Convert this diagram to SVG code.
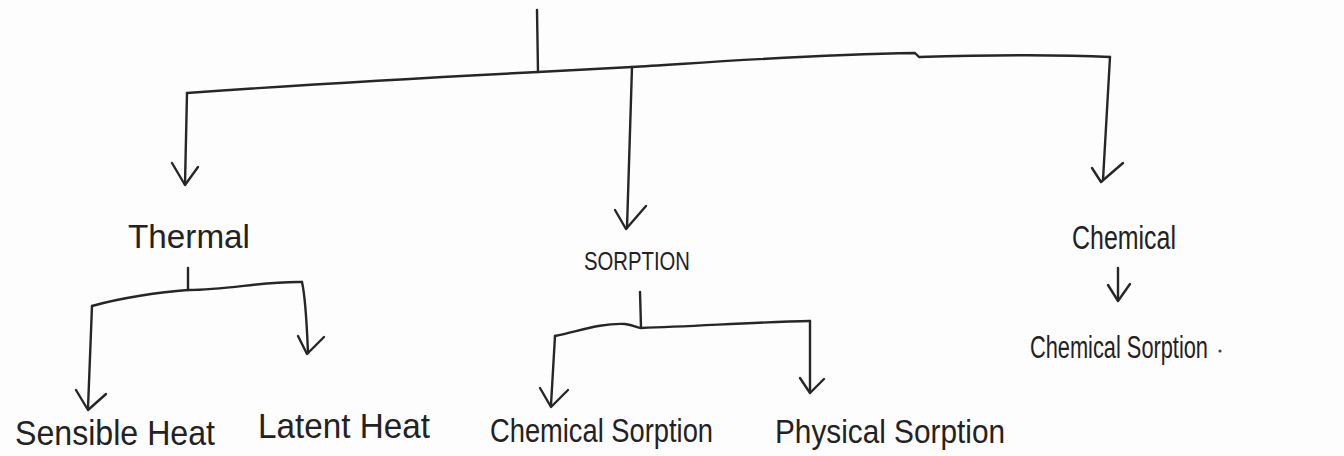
<svg xmlns="http://www.w3.org/2000/svg" width="1344" height="456" viewBox="0 0 1344 456">
  <style>
    .ink { fill: none; stroke: #262626; stroke-width: 2.4; stroke-linecap: round; stroke-linejoin: round; }
    .lbl { font-family: "Liberation Sans", "DejaVu Sans", sans-serif; fill: #222; }
  </style>
  <rect width="1344" height="456" fill="#fdfdfd"/>

  <!-- connectors -->
  <g id="connectors" class="ink">
    <!-- root stem and main bar -->
    <path d="M537,10 L538,72"/>
    <path d="M187,93 C300,85 420,78 538,72 C580,70 610,68 632,67 C700,63 800,55 915,53 L919,57 C990,55 1050,54 1110,57"/>
    <!-- to Thermal -->
    <path d="M187,93 L185,184"/>
    <path d="M172,163 L185,185 L198,167"/>
    <!-- to SORPTION -->
    <path d="M632,67 L627,228"/>
    <path d="M615,210 L626,229 L646,206"/>
    <!-- to Chemical -->
    <path d="M1110,57 L1103,180"/>
    <path d="M1092,168 L1101,182 L1123,163"/>
    <!-- Chemical to Chemical Sorption -->
    <path d="M1118,268 L1118,300"/>
    <path d="M1108,285 L1118,301 L1130,284"/>

    <!-- Thermal split -->
    <path d="M188,268 L188,290"/>
    <path d="M92,306 C120,298 160,292 188,290 C230,290 262,281 302,282"/>
    <path d="M302,282 C306,300 307,330 308,353"/>
    <path d="M298,336 L307,354 L324,337"/>
    <path d="M92,306 L88,408"/>
    <path d="M76,390 L88,410 L106,394"/>

    <!-- SORPTION split -->
    <path d="M640,292 L641,327"/>
    <path d="M555,336 C580,331 600,323 625,324 C634,325 637,328 641,328 C700,326 760,322 810,321"/>
    <path d="M810,321 L810,392"/>
    <path d="M800,378 L810,393 L824,379"/>
    <path d="M555,336 L551,405"/>
    <path d="M540,388 L551,407 L568,390"/>
  </g>

  <g id="thermal">
    <text class="lbl" x="128" y="248" font-size="33" textLength="122" lengthAdjust="spacingAndGlyphs">Thermal</text>
  </g>
  <g id="sorption">
    <text class="lbl" x="584" y="270" font-size="25" textLength="106" lengthAdjust="spacingAndGlyphs">SORPTION</text>
  </g>
  <g id="chemical">
    <text class="lbl" x="1072" y="249" font-size="33" textLength="104" lengthAdjust="spacingAndGlyphs">Chemical</text>
  </g>
  <g id="chemical-sorption-right">
    <text class="lbl" x="1030" y="358" font-size="31" textLength="178" lengthAdjust="spacingAndGlyphs">Chemical Sorption</text>
    <circle cx="1220" cy="351" r="1.6" fill="#444"/>
  </g>
  <g id="sensible-heat">
    <text class="lbl" x="15" y="445" font-size="35" textLength="200" lengthAdjust="spacingAndGlyphs">Sensible Heat</text>
  </g>
  <g id="latent-heat">
    <text class="lbl" x="258" y="438" font-size="35" textLength="172" lengthAdjust="spacingAndGlyphs">Latent Heat</text>
  </g>
  <g id="chemical-sorption">
    <text class="lbl" x="490" y="442" font-size="34" textLength="223" lengthAdjust="spacingAndGlyphs">Chemical Sorption</text>
  </g>
  <g id="physical-sorption">
    <text class="lbl" x="775" y="443" font-size="34" textLength="230" lengthAdjust="spacingAndGlyphs">Physical Sorption</text>
  </g>
</svg>
